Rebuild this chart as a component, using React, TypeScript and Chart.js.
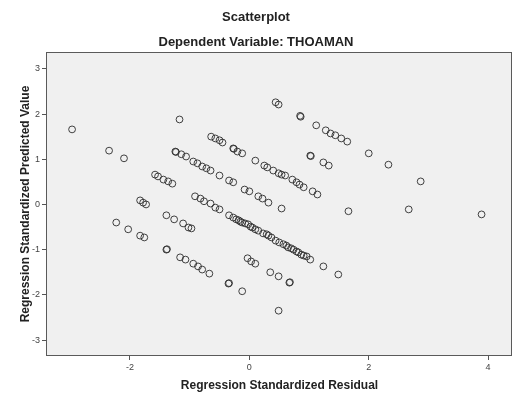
import React, { useEffect, useRef } from "react";
import { Chart, registerables } from "chart.js";

Chart.register(...registerables);

const chartTitle = "Scatterplot";
const chartSubtitle = "Dependent Variable: THOAMAN";
const xAxisTitle = "Regression Standardized Residual";
const yAxisTitle = "Regression Standardized Predicted Value";

const xTickValues = [-2, 0, 2, 4];
const yTickValues = [-3, -2, -1, 0, 1, 2, 3];
const xRange = [-3.39, 4.4];
const yRange = [-3.33, 3.35];

// Regression standardized residuals (x)
const residuals = [
  -2.97, -2.35, -2.10, -1.17, 0.44, 0.49, 0.85, 0.86, 1.12, 1.28, 1.36, 1.44, 1.54, 1.64,
  2.00, 2.33, 2.87, 1.66, 2.67, 3.89,
  -1.24, -1.23, -1.14, -1.06, -0.94, -0.87, -0.79, -0.72, -0.65, -0.50, -0.34, -0.27, -0.08, 0.00,
  0.15, 0.22, 0.32, 0.54,
  -1.58, -1.53, -1.44, -1.36, -1.29,
  -0.64, -0.57, -0.50, -0.45, -0.27, -0.26, -0.20, -0.12, 0.10, 0.25, 0.30, 0.40, 0.49, 0.54, 0.60,
  0.72, 0.79, 0.84, 0.91, 1.06, 1.14,
  1.02, 1.03, 1.24, 1.33,
  -1.83, -1.78, -1.73,
  -0.91, -0.82, -0.76, -0.65, -0.57, -0.50, -0.34, -0.27, -0.22, -0.18, -0.15, -0.12, -0.07, -0.02,
  0.02, 0.05, 0.10, 0.15, 0.23, 0.29, 0.32, 0.37, 0.44, 0.50, 0.57, 0.62, 0.65, 0.70, 0.74, 0.79,
  0.82, 0.87, 0.91, 0.96, 1.02, 1.24, 1.49,
  -1.39, -1.26, -1.11, -1.02, -0.97,
  -2.23, -2.03, -1.83, -1.76,
  -1.39, -1.38, -1.16, -1.07, -0.94, -0.86, -0.79, -0.67, -0.35, -0.34, -0.12,
  -0.03, 0.03, 0.10, 0.35, 0.49, 0.67, 0.68, 0.49,
];

// Regression standardized predicted values (y)
const predicted = [
  1.66, 1.19, 1.02, 1.88, 2.26, 2.21, 1.96, 1.94, 1.75, 1.64, 1.57, 1.53, 1.46, 1.39,
  1.13, 0.88, 0.51, -0.15, -0.11, -0.22,
  1.17, 1.16, 1.11, 1.06, 0.95, 0.91, 0.84, 0.80, 0.75, 0.64, 0.53, 0.49, 0.33, 0.29,
  0.18, 0.13, 0.04, -0.09,
  0.66, 0.62, 0.55, 0.51, 0.46,
  1.50, 1.46, 1.42, 1.37, 1.24, 1.23, 1.17, 1.13, 0.97, 0.86, 0.82, 0.75, 0.69, 0.66, 0.64,
  0.55, 0.49, 0.44, 0.38, 0.29, 0.22,
  1.08, 1.07, 0.93, 0.86,
  0.09, 0.04, 0.00,
  0.18, 0.13, 0.07, 0.02, -0.07, -0.11, -0.24, -0.29, -0.33, -0.35, -0.38, -0.40, -0.42, -0.44,
  -0.49, -0.51, -0.55, -0.58, -0.64, -0.66, -0.69, -0.73, -0.80, -0.84, -0.88, -0.91, -0.95, -0.97, -1.00, -1.04,
  -1.06, -1.11, -1.13, -1.15, -1.22, -1.37, -1.55,
  -0.24, -0.33, -0.42, -0.51, -0.53,
  -0.40, -0.55, -0.69, -0.73,
  -1.00, -0.99, -1.17, -1.22, -1.31, -1.37, -1.44, -1.53, -1.75, -1.74, -1.92,
  -1.19, -1.26, -1.31, -1.50, -1.59, -1.73, -1.72, -2.35,
];

const FONT = "Arial, 'Liberation Sans', Helvetica, sans-serif";

const plotFrame = {
  id: "plotFrame",
  beforeDatasetsDraw(chart: any) {
    const { ctx, chartArea: a } = chart;
    ctx.save();
    ctx.fillStyle = "#f0f0f0";
    ctx.fillRect(a.left, a.top, a.right - a.left, a.bottom - a.top);
    ctx.restore();
  },
  afterDatasetsDraw(chart: any) {
    const { ctx, chartArea: a } = chart;
    ctx.save();
    ctx.strokeStyle = "#5a5a5a";
    ctx.lineWidth = 1;
    ctx.strokeRect(a.left - 0.5, a.top - 0.5, a.right - a.left, a.bottom - a.top + 1);
    ctx.restore();
  },
};

export default function App() {
  const canvasRef = useRef<HTMLCanvasElement | null>(null);

  useEffect(() => {
    const canvas = canvasRef.current;
    if (!canvas) return;
    const points = residuals.map((x, i) => ({ x, y: predicted[i] }));
    const chart = new Chart(canvas, {
      type: "scatter",
      data: {
        datasets: [
          {
            data: points,
            pointStyle: "circle",
            pointRadius: 3.4,
            pointHoverRadius: 3.4,
            pointBorderWidth: 1,
            borderColor: "rgba(45,45,45,0.9)",
            backgroundColor: "rgba(0,0,0,0)",
          },
        ],
      },
      plugins: [plotFrame],
      options: {
        animation: false,
        responsive: false,
        maintainAspectRatio: false,
        layout: { padding: { left: 0, right: 6, top: 0, bottom: 0 } },
        plugins: {
          legend: { display: false },
          tooltip: { enabled: false },
          title: {
            display: true,
            text: chartTitle,
            color: "#222",
            font: { family: FONT, size: 13, weight: "bold" },
            padding: { top: 10, bottom: 6 },
          },
          subtitle: {
            display: true,
            text: chartSubtitle,
            color: "#222",
            font: { family: FONT, size: 13, weight: "bold" },
            padding: { top: 3, bottom: 2.8 },
          },
        },
        scales: {
          x: {
            type: "linear",
            min: xRange[0],
            max: xRange[1],
            afterBuildTicks: (scale: any) => {
              scale.ticks = xTickValues.map((v) => ({ value: v }));
            },
            afterFit: (scale: any) => {
              scale.height = 49;
            },
            ticks: {
              color: "#444",
              font: { family: FONT, size: 9 },
              padding: 2,
              maxRotation: 0,
              callback: (v: any) => String(v),
            },
            grid: {
              display: true,
              drawOnChartArea: false,
              drawTicks: true,
              tickLength: 5,
              color: "#555",
            },
            border: { display: false },
            title: {
              display: true,
              text: xAxisTitle,
              color: "#222",
              font: { family: FONT, size: 12, weight: "bold" },
              padding: { top: 4, bottom: 11 },
            },
          },
          y: {
            type: "linear",
            min: yRange[0],
            max: yRange[1],
            afterBuildTicks: (scale: any) => {
              scale.ticks = yTickValues.map((v) => ({ value: v }));
            },
            afterFit: (scale: any) => {
              scale.width = 47;
            },
            ticks: {
              color: "#444",
              font: { family: FONT, size: 9 },
              padding: 2,
              callback: (v: any) => String(v),
            },
            grid: {
              display: true,
              drawOnChartArea: false,
              drawTicks: true,
              tickLength: 5,
              color: "#555",
            },
            border: { display: false },
            title: {
              display: true,
              text: yAxisTitle,
              color: "#222",
              font: { family: FONT, size: 12, weight: "bold" },
              padding: { top: 18, bottom: 0 },
            },
          },
        },
      },
    });
    return () => chart.destroy();
  }, []);

  return (
    <div style={{ position: "absolute", left: 0, top: 0, width: 518, height: 404, background: "#fff" }}>
      <canvas ref={canvasRef} width={518} height={404} style={{ display: "block" }} />
    </div>
  );
}
